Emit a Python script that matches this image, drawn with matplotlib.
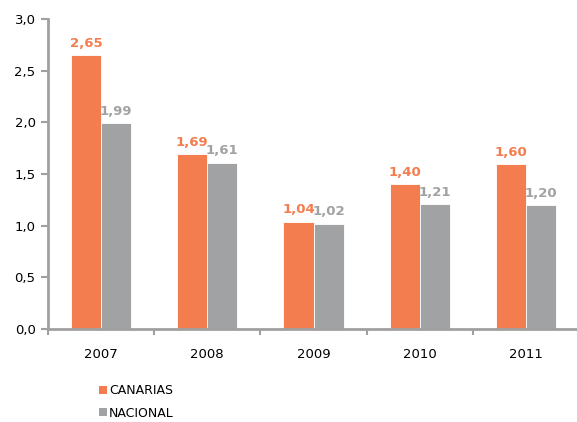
import matplotlib
matplotlib.use("Agg")
import matplotlib.pyplot as plt
import numpy as np
from matplotlib.patches import Patch

years = ["2007", "2008", "2009", "2010", "2011"]
canarias = [2.65, 1.69, 1.04, 1.40, 1.60]
nacional = [1.99, 1.61, 1.02, 1.21, 1.20]
yticks = [0.0, 0.5, 1.0, 1.5, 2.0, 2.5, 3.0]

ORANGE = "#F47D50"
GRAY = "#A0A2A4"
AXIS = "#A0A0A0"

plt.rcParams['font.family'] = ['DejaVu Sans']

fig = plt.figure(figsize=(5.77, 4.22), dpi=100)
W, H = 577, 422
left, right = 48, 579
bottom, top = 329, 19
ax = fig.add_axes([left / W, 1 - bottom / H, (right - left) / W, (bottom - top) / H])

x = np.arange(len(years))
bw = 0.283
ax.bar(x - bw / 2, canarias, bw, color=ORANGE, edgecolor="white", linewidth=0.6, zorder=2)
ax.bar(x + bw / 2, nacional, bw, color=GRAY, edgecolor="white", linewidth=0.6, zorder=2)

for i in range(len(years)):
    ax.text(x[i] - bw / 2, canarias[i] + 0.05, f"{canarias[i]:.2f}".replace(".", ","),
            ha="center", va="bottom", color=ORANGE, fontsize=9.5, fontweight="bold")
    ax.text(x[i] + bw / 2, nacional[i] + 0.05, f"{nacional[i]:.2f}".replace(".", ","),
            ha="center", va="bottom", color=GRAY, fontsize=9.5, fontweight="bold")

ax.set_xlim(-0.5, len(years) - 0.5)
ax.set_ylim(0, 3.0)
ax.set_yticks(yticks)
ax.set_yticklabels([f"{v:.1f}".replace(".", ",") for v in yticks], fontsize=9.5)
ax.set_xticks(x)
ax.set_xticklabels(years, fontsize=9.5)
ax.tick_params(axis="x", length=0, pad=14)
ax.set_xticks(np.arange(len(years)) - 0.5, minor=True)
ax.tick_params(axis="x", which="minor", length=4, color=AXIS, width=1.5)
ax.tick_params(axis="y", length=5, color=AXIS, width=1.5, pad=4)

for s in ["top", "right"]:
    ax.spines[s].set_visible(False)
for s in ["left", "bottom"]:
    ax.spines[s].set_color(AXIS)
    ax.spines[s].set_linewidth(2)

handles = [Patch(facecolor=ORANGE, label="CANARIAS"), Patch(facecolor=GRAY, label="NACIONAL")]
fig.legend(handles=handles, loc="upper left", bbox_to_anchor=(93 / W, 1 - 378 / H),
           frameon=False, fontsize=9, handlelength=0.6, handleheight=0.6,
           handletextpad=0.2, labelspacing=0.75, borderpad=0)

fig.savefig("out.png", dpi=100)
